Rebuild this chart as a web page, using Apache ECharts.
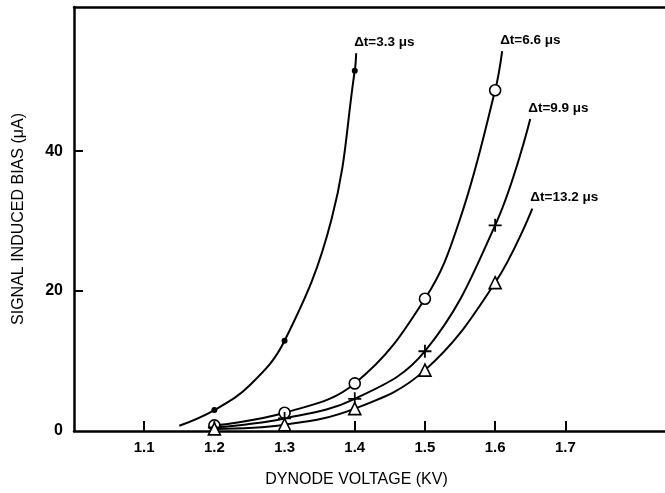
<!DOCTYPE html>
<html>
<head>
<meta charset="utf-8">
<script src="https://cdn.jsdelivr.net/npm/echarts@6/dist/echarts.min.js"></script>
<style>
  html, body { margin: 0; padding: 0; background: #fff; }
  #chart { width: 665px; height: 493px; }
</style>
</head>
<body>
<div id="chart"></div>
<script>
// Dynode voltage (kV) at which each bias was measured
const voltages = [1.2, 1.3, 1.4, 1.5, 1.6];

// Measured signal-induced bias (µA) per pulse spacing Δt
const bias33 = [3.0, 12.9, 51.5];
const bias66 = [0.8, 2.6, 6.8, 18.9, 48.7];
const bias99 = [0.5, 1.8, 4.6, 11.4, 29.4];
const bias132 = [0.3, 0.9, 3.2, 8.7, 21.2];

// Extra points along the drawn trend curves [kV, µA]
const trace33 = [[1.15, 0.75], [1.25, 6.5], [1.367, 30.3]];
const trace66 = [[1.55, 30.3]];

// Where each trend curve ends [kV, µA]
const curveEnd33 = [1.402, 54.0];
const curveEnd66 = [1.61, 54.3];
const curveEnd99 = [1.65, 44.6];
const curveEnd132 = [1.653, 31.8];

// Curve labels
const curveNames = ['Δt=3.3 μs', 'Δt=6.6 μs', 'Δt=9.9 μs', 'Δt=13.2 μs'];

// Axis ticks
const xTicks = [1.1, 1.2, 1.3, 1.4, 1.5, 1.6, 1.7];
const yTicks = [0, 20, 40];

const pairs = (vals) => vals.map((v, i) => [voltages[i], v]);
const path = (measured, extra, end) =>
  pairs(measured).concat(extra).concat([end]).sort((a, b) => a[0] - b[0]);

function curve(name, pts, label) {
  return {
    name: name,
    type: 'line',
    data: pts,
    smooth: 0.4,
    showSymbol: false,
    symbol: 'none',
    lineStyle: { color: '#000', width: 2 },
    silent: true,
    z: 2,
    endLabel: {
      show: true,
      formatter: label,
      align: 'left',
      verticalAlign: 'bottom',
      distance: 0,
      offset: [-2, -4],
      color: '#000',
      fontFamily: 'Liberation Sans',
      fontWeight: 'bold',
      fontSize: 13.5
    }
  };
}

function marks(name, vals, symbol, size, fill, border) {
  return {
    name: name,
    type: 'scatter',
    data: pairs(vals),
    symbol: symbol,
    symbolSize: size,
    itemStyle: { color: fill, borderColor: '#000', borderWidth: border, opacity: 1 },
    silent: true,
    z: 5
  };
}

const chart = echarts.init(document.getElementById('chart'), null, { renderer: 'canvas' });

chart.setOption({
  animation: false,
  backgroundColor: '#fff',
  grid: { left: 74, right: 0, top: 7, bottom: 60, containLabel: false },
  xAxis: [{
    type: 'value',
    min: 1.0,
    max: 1.842,
    interval: 0.1,
    name: 'DYNODE VOLTAGE (KV)',
    nameLocation: 'middle',
    nameGap: 41,
    nameTextStyle: {
      color: '#000', fontSize: 16, fontFamily: 'Liberation Sans',
      padding: [0, 26, 0, 0]
    },
    axisLine: { show: true, onZero: false, lineStyle: { color: '#000', width: 2.5 } },
    axisTick: {
      show: true, inside: true, length: 10, customValues: xTicks,
      lineStyle: { color: '#000', width: 2 }
    },
    axisLabel: {
      show: true, customValues: xTicks, margin: 9,
      color: '#000', fontSize: 15, fontWeight: 'bold', fontFamily: 'Liberation Sans',
      formatter: (v) => v.toFixed(1)
    },
    splitLine: { show: false }
  }, {
    // top frame line
    type: 'value',
    position: 'top',
    min: 1.0,
    max: 1.842,
    axisLine: { show: true, onZero: false, lineStyle: { color: '#000', width: 2.5 } },
    axisTick: { show: false },
    axisLabel: { show: false },
    splitLine: { show: false }
  }],
  yAxis: {
    type: 'value',
    min: 0,
    max: 60.6,
    interval: 20,
    name: 'SIGNAL INDUCED BIAS (μA)',
    nameLocation: 'middle',
    nameGap: 47,
    nameTextStyle: { color: '#000', fontSize: 16, fontFamily: 'Liberation Sans' },
    axisLine: { show: true, onZero: false, lineStyle: { color: '#000', width: 2.5 } },
    axisTick: {
      show: true, inside: true, length: 9, customValues: [20, 40],
      lineStyle: { color: '#000', width: 2 }
    },
    axisLabel: {
      show: true, customValues: yTicks, margin: 11,
      color: '#000', fontSize: 16, fontWeight: 'bold', fontFamily: 'Liberation Sans'
    },
    splitLine: { show: false }
  },
  series: [
    curve('c33', path(bias33, trace33, curveEnd33), curveNames[0]),
    curve('c66', path(bias66, trace66, curveEnd66), curveNames[1]),
    curve('c99', path(bias99, [], curveEnd99), curveNames[2]),
    curve('c132', path(bias132, [], curveEnd132), curveNames[3]),
    marks('m33', bias33, 'circle', 6, '#000', 0),
    marks('m66', bias66, 'circle', 11, '#fff', 1.6),
    marks('m99', bias99, 'path://M0,6 L12,6 M6,0 L6,12', 13, 'none', 1.8),
    marks('m132', bias132, 'triangle', 12, '#fff', 1.6)
  ]
});
</script>
</body>
</html>
